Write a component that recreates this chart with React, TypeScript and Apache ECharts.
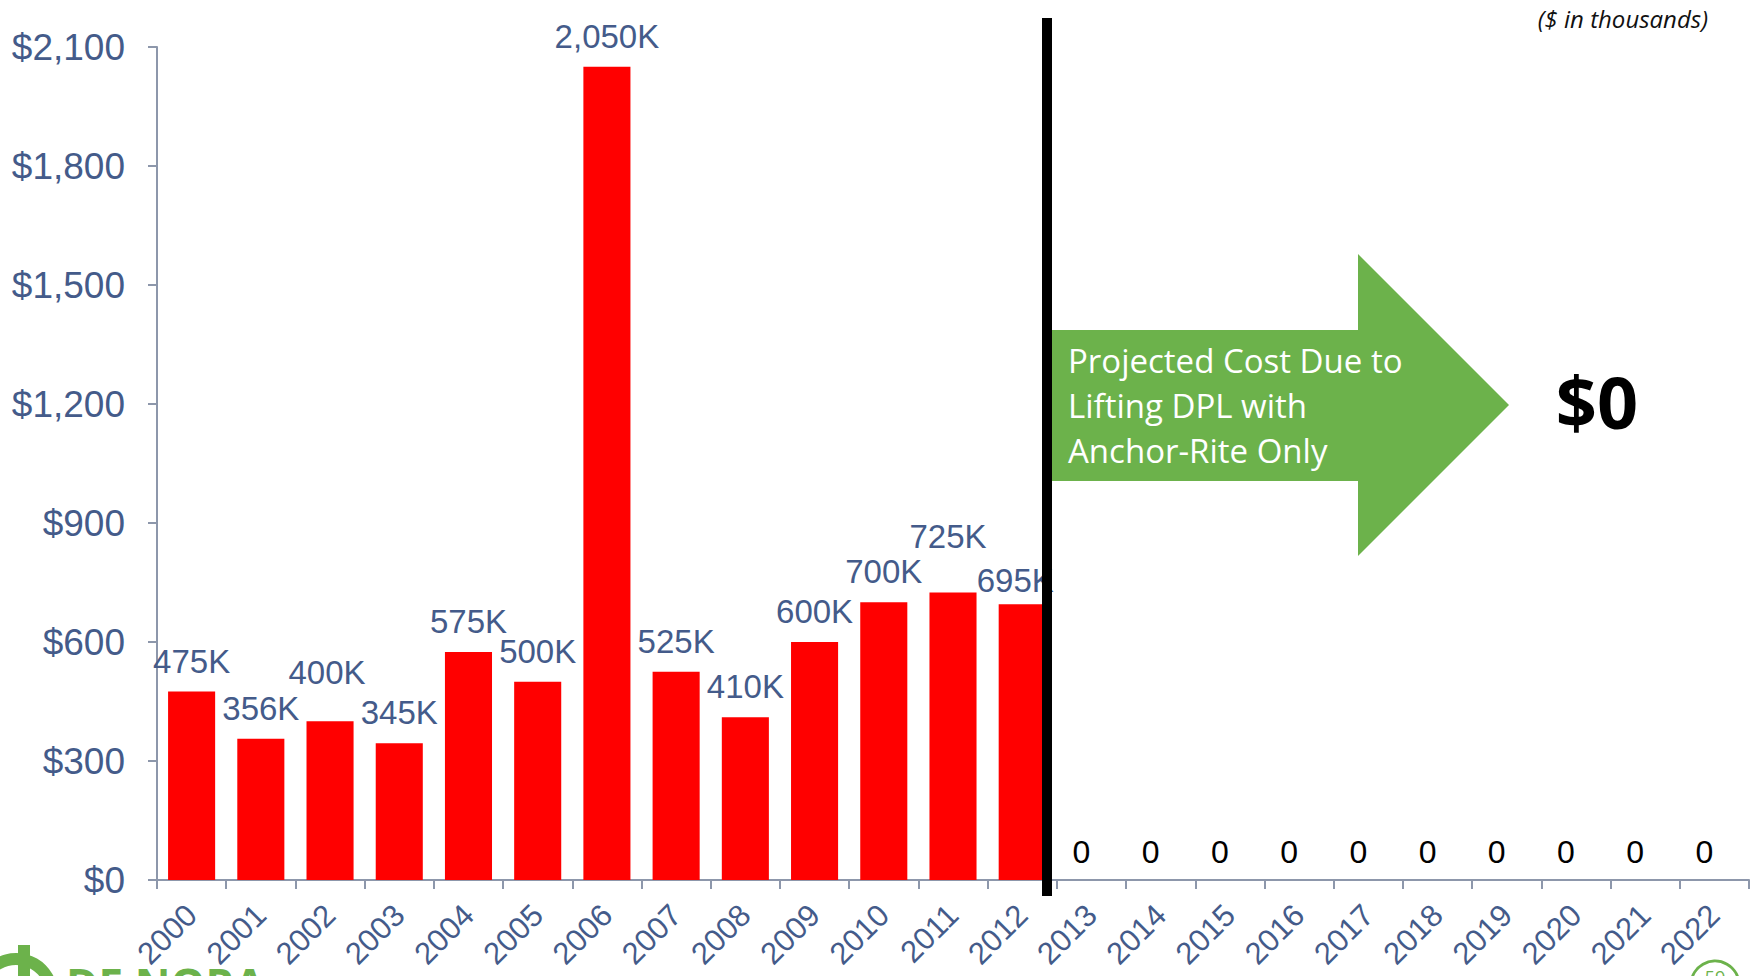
import React, { useEffect, useRef } from "react";
import * as echarts from "echarts";

const years = ["2000","2001","2002","2003","2004","2005","2006","2007","2008","2009","2010","2011","2012","2013","2014","2015","2016","2017","2018","2019","2020","2021","2022"];
const costs = [475, 356, 400, 345, 575, 500, 2050, 525, 410, 600, 700, 725, 695, 0, 0, 0, 0, 0, 0, 0, 0, 0, 0];
const yTicks = { min: 0, max: 2100, interval: 300 };
const arrowLines = ["Projected Cost Due to", "Lifting DPL with", "Anchor-Rite Only"];

const BLUE = "#445b8a";
const AXIS = "#8d97ab";
const GREEN = "#6cb24b";
const FONT = "Liberation Sans, Arial, sans-serif";

// label nudges (styling only, by year)
const labelNudge: Record<string, [number, number]> = {
  "2002": [-3, -18],
  "2011": [-5, -25],
  "2012": [-7, 7],
};

export default function App() {
  const ref = useRef<HTMLDivElement>(null);
  useEffect(() => {
    if (!ref.current) return;
    const chart = echarts.init(ref.current, undefined, { renderer: "svg" });
    const data = costs.map((v, i) => {
      if (v === 0) {
        return {
          value: v,
          label: { color: "#000", formatter: "0", distance: 12, fontSize: 32, offset: [-10, 0] },
        };
      }
      const nudge = labelNudge[years[i]];
      return nudge ? { value: v, label: { offset: nudge } } : { value: v };
    });
    chart.setOption({
      animation: false,
      grid: { left: 157, right: 4, top: 47, bottom: 96, containLabel: false },
      xAxis: {
        type: "category",
        data: years,
        axisLine: { lineStyle: { color: AXIS, width: 2 } },
        axisTick: { show: true, length: 9, lineStyle: { color: AXIS, width: 2 } },
        axisLabel: {
          rotate: 45,
          color: BLUE,
          fontSize: 31,
          fontFamily: FONT,
          margin: 30,
          interval: 0,
        },
      },
      yAxis: {
        type: "value",
        min: yTicks.min,
        max: yTicks.max,
        interval: yTicks.interval,
        splitLine: { show: false },
        axisLine: { show: true, lineStyle: { color: AXIS, width: 2 } },
        axisTick: { show: true, length: 9, lineStyle: { color: AXIS, width: 2 } },
        axisLabel: {
          color: BLUE,
          fontSize: 37,
          fontFamily: FONT,
          margin: 32,
          formatter: (v: number) => "$" + v.toLocaleString("en-US"),
        },
      },
      series: [
        {
          type: "bar",
          data,
          barWidth: "68%",
          itemStyle: { color: "#ff0000" },
          label: {
            show: true,
            position: "top",
            distance: 14,
            color: BLUE,
            fontSize: 33,
            fontFamily: FONT,
            formatter: (p: any) => p.value.toLocaleString("en-US") + "K",
          },
          z: 2,
        },
      ],
      graphic: [
        {
          type: "polygon",
          z: 10,
          shape: {
            points: [
              [1048, 330], [1358, 330], [1358, 254], [1509, 405],
              [1358, 556], [1358, 481], [1048, 481],
            ],
          },
          style: { fill: GREEN },
        },
        {
          type: "text",
          z: 11,
          x: 1068,
          y: 338,
          style: {
            text: arrowLines.join("\n"),
            fill: "#fff",
            font: "33px 'Open Sans', sans-serif",
            lineHeight: 45,
            textAlign: "left",
            textVerticalAlign: "top",
          },
        },
        {
          type: "rect",
          z: 12,
          shape: { x: 1042, y: 18, width: 10, height: 878 },
          style: { fill: "#000" },
        },
        {
          type: "text",
          z: 11,
          x: 1597,
          y: 401,
          style: {
            text: "$0",
            fill: "#000",
            font: "bold 72px 'Open Sans', sans-serif",
            textAlign: "center",
            textVerticalAlign: "middle",
          },
        },
        {
          type: "text",
          z: 11,
          x: 1708,
          y: 18,
          style: {
            text: "($ in thousands)",
            fill: "#111",
            font: "italic 24px 'Open Sans', sans-serif",
            textAlign: "right",
            textVerticalAlign: "middle",
          },
        },
        {
          type: "ring",
          z: 11,
          shape: { cx: 16, cy: 995, r: 42, r0: 30 },
          style: { fill: GREEN },
        },
        {
          type: "rect",
          z: 11,
          shape: { x: 18, y: 945, width: 12, height: 40 },
          style: { fill: GREEN },
        },
        {
          type: "text",
          z: 11,
          x: 66,
          y: 962,
          style: {
            text: "DE NORA",
            fill: GREEN,
            font: "bold 44px 'Open Sans', sans-serif",
            textAlign: "left",
            textVerticalAlign: "top",
          },
        },
        {
          type: "circle",
          z: 11,
          shape: { cx: 1715, cy: 985, r: 24 },
          style: { fill: "#fff", stroke: GREEN, lineWidth: 3 },
        },
        {
          type: "text",
          z: 12,
          x: 1715,
          y: 968,
          style: {
            text: "59",
            fill: GREEN,
            font: "18px 'Open Sans', sans-serif",
            textAlign: "center",
            textVerticalAlign: "top",
          },
        },
      ],
    });
    return () => chart.dispose();
  }, []);
  return <div ref={ref} style={{ width: 1753, height: 976, position: "absolute", left: 0, top: 0 }} />;
}
